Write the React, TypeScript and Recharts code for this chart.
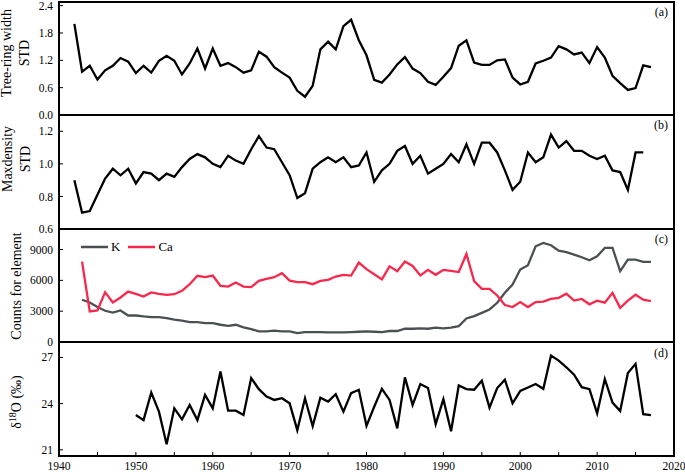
import { LineChart, Line, XAxis, YAxis, ReferenceArea, Legend } from 'recharts'

const FONT = "'Liberation Serif', 'Times New Roman', serif"

// first year of each record
const startRing = 1942
const startDensity = 1942
const startElement = 1943
const startOxygen = 1950

// (a) tree-ring width STD, 1942-2017
const ringWidth = [
	2.0, 0.95, 1.08, 0.78, 0.98, 1.08, 1.25, 1.17, 0.92, 1.08, 0.93, 1.19, 1.3, 1.19,
	0.89, 1.13, 1.46, 1.02, 1.46, 1.08, 1.14, 1.05, 0.93, 0.98, 1.39, 1.28, 1.05, 0.93,
	0.82, 0.53, 0.4, 0.64, 1.44, 1.61, 1.44, 1.95, 2.09, 1.64, 1.31, 0.77, 0.71, 0.89,
	1.11, 1.27, 1.02, 0.92, 0.73, 0.66, 0.84, 1.03, 1.52, 1.64, 1.15, 1.1, 1.1, 1.2,
	1.22, 0.82, 0.67, 0.73, 1.13, 1.19, 1.26, 1.51, 1.44, 1.33, 1.37, 1.14, 1.49, 1.26,
	0.86, 0.7, 0.55, 0.59, 1.09, 1.05,
]

// (b) maxdensity STD, 1942-2016
const maxDensity = [
	0.9, 0.7, 0.71, 0.81, 0.91, 0.97, 0.93, 0.97, 0.88, 0.95, 0.94, 0.9, 0.94, 0.92,
	0.98, 1.03, 1.06, 1.04, 1.0, 0.98, 1.05, 1.02, 1.0, 1.09, 1.17, 1.1, 1.09, 1.01,
	0.93, 0.79, 0.82, 0.97, 1.01, 1.04, 1.01, 1.04, 0.98, 0.99, 1.07, 0.89, 0.96, 1.0,
	1.08, 1.11, 1.0, 1.05, 0.94, 0.97, 1.0, 1.06, 1.01, 1.12, 1.0, 1.13, 1.13, 1.07,
	0.96, 0.84, 0.89, 1.07, 1.01, 1.04, 1.18, 1.1, 1.14, 1.08, 1.08, 1.05, 1.03, 1.05,
	0.96, 0.95, 0.84, 1.07, 1.07,
]

// (c) counts for element, 1943-2017
const potassium = [
	4110, 3850, 3400, 3040, 2870, 3070, 2580, 2580, 2490, 2420, 2420, 2330, 2170, 2070,
	1940, 1940, 1840, 1840, 1680, 1580, 1680, 1420, 1260, 1030, 1030, 1100, 1030, 1030,
	870, 970, 970, 970, 940, 930, 930, 970, 1000, 1030, 1000, 970, 1070, 1070, 1290,
	1290, 1320, 1290, 1390, 1320, 1390, 1550, 2290, 2520, 2840, 3170, 3820, 4790, 5600,
	7050, 7470, 9320, 9640, 9420, 8890, 8740, 8510, 8250, 7960, 8350, 9160, 9160, 6890,
	8020, 8020, 7800, 7800,
]
const calcium = [
	7830, 2970, 3070, 4850, 3850, 4330, 4910, 4690, 4430, 4820, 4690, 4590, 4650, 4980,
	5630, 6440, 6310, 6470, 5470, 5400, 5790, 5400, 5340, 5950, 6150, 6310, 6700, 5980,
	5830, 5830, 5630, 5950, 6050, 6370, 6530, 6470, 7730, 7090, 6600, 6100, 7360, 6900,
	7840, 7400, 6480, 7030, 6540, 7020, 6930, 6810, 8570, 5930, 5180, 5180, 4530, 3600,
	3400, 3890, 3400, 3880, 3930, 4200, 4300, 4700, 4030, 4190, 3670, 4030, 3830, 4780,
	3320, 4030, 4600, 4120, 3970,
]
const elementOrder = ['K', 'Ca']

// (d) δ18O, 1950-2017
const oxygen = [
	23.26, 22.93, 24.72, 23.48, 21.36, 23.7, 22.98, 23.91, 22.93, 24.57, 23.7, 26.09,
	23.54, 23.54, 23.26, 25.66, 24.94, 24.46, 24.24, 24.35, 24.02, 22.28, 24.35, 22.54,
	24.39, 24.13, 24.61, 23.48, 24.68, 24.9, 22.56, 23.8, 24.96, 24.24, 22.39, 25.7,
	23.91, 25.27, 25.01, 22.67, 24.29, 22.21, 25.18, 24.94, 24.9, 25.49, 23.74, 25.01,
	25.55, 24.02, 24.83, 25.05, 25.27, 24.96, 27.12, 26.79, 26.36, 25.88, 25.07, 24.94,
	23.37, 25.6, 24.07, 23.52, 25.99, 26.58, 23.31, 23.26,
]

const xTicks = [
	1940, 1945, 1950, 1955, 1960, 1965, 1970, 1975, 1980, 1985, 1990, 1995, 2000, 2005,
	2010, 2015, 2020,
]
const ringTicks = [0, 0.6, 1.2, 1.8, 2.4]
const densityTicks = [0.6, 0.8, 1.0, 1.2]
const elementTicks = [0, 3000, 6000, 9000]
const oxygenTicks = [21, 24, 27]

const ringRows = ringWidth.map((v, i) => ({ year: startRing + i, v }))
const densityRows = maxDensity.map((v, i) => ({ year: startDensity + i, v }))
const elementRows = potassium.map((k, i) => ({ year: startElement + i, k, ca: calcium[i] }))
const oxygenRows = oxygen.map((v, i) => ({ year: startOxygen + i, v }))

const axisLine = { stroke: '#000', strokeWidth: 2 }
const tickLine = { stroke: '#000', strokeWidth: 1 }
const tickStyle = { fill: '#000', fontSize: 11.5, fontFamily: FONT }

const oneDec = (v: number) => v.toFixed(1)

function LegendContent({ payload }: any) {
	const items = [...(payload || [])].sort(
		(a: any, b: any) => elementOrder.indexOf(a.value) - elementOrder.indexOf(b.value)
	)
	return (
		<div style={{ display: 'flex', alignItems: 'center', fontFamily: FONT, fontSize: 13, color: '#000', lineHeight: '14px' }}>
			{items.map((p: any) => (
				<span key={p.value} style={{ display: 'flex', alignItems: 'center', marginRight: 8 }}>
					<svg width={27} height={4}>
						<line x1={0} y1={2} x2={27} y2={2} stroke={p.color} strokeWidth={2.5} />
					</svg>
					<span style={{ marginLeft: 3 }}>{p.value}</span>
				</span>
			))}
		</div>
	)
}

function Panel({ rows, top, height, marginTop = 0, xh = 0, domain, yTicks, yFmt, years = false, children }: any) {
	return (
		<div style={{ position: 'absolute', left: 0, top }}>
			<LineChart width={685} height={height} data={rows} margin={{ top: marginTop, right: 11, bottom: 0, left: 0 }}>
				<XAxis
					dataKey='year'
					type='number'
					domain={[1940, 2020]}
					ticks={xTicks}
					interval={0}
					allowDataOverflow
					height={xh}
					tickSize={-4}
					tickMargin={years ? 10 : 0}
					tickFormatter={(v: number) => (years && v % 10 === 0 ? String(v) : '')}
					axisLine={axisLine}
					tickLine={tickLine}
					tick={tickStyle}
				/>
				<YAxis
					type='number'
					domain={domain}
					ticks={yTicks}
					interval={0}
					allowDataOverflow
					width={59}
					tickSize={-4}
					tickMargin={10}
					tickFormatter={yFmt}
					axisLine={axisLine}
					tickLine={tickLine}
					tick={tickStyle}
				/>
				<ReferenceArea x1={1940} x2={2020} y1={domain[0]} y2={domain[1]} fill='none' stroke='#000' strokeWidth={2} />
				{children}
			</LineChart>
		</div>
	)
}

export default function App() {
	return (
		<div style={{ position: 'relative', width: 685, height: 472, background: '#fff', fontFamily: FONT }}>
			<style>{'body{margin:0} .recharts-surface{overflow:visible}'}</style>

			<Panel rows={ringRows} top={0} height={115} marginTop={2} domain={[0, 2.48]} yTicks={ringTicks} yFmt={oneDec}>
				<Line dataKey='v' type='linear' stroke='#000' strokeWidth={2.3} dot={false} activeDot={false} isAnimationActive={false} />
			</Panel>

			<Panel rows={densityRows} top={115} height={114} domain={[0.6, 1.3]} yTicks={densityTicks} yFmt={oneDec}>
				<Line dataKey='v' type='linear' stroke='#000' strokeWidth={2.3} dot={false} activeDot={false} isAnimationActive={false} />
			</Panel>

			<Panel rows={elementRows} top={229} height={113} domain={[0, 11000]} yTicks={elementTicks}>
				<Line dataKey='k' name='K' type='linear' stroke='#4a5052' strokeWidth={2.3} dot={false} activeDot={false} isAnimationActive={false} />
				<Line dataKey='ca' name='Ca' type='linear' stroke='#f8284c' strokeWidth={2.3} dot={false} activeDot={false} isAnimationActive={false} />
				<Legend
					layout='horizontal'
					verticalAlign='middle'
					align='center'
					wrapperStyle={{ top: 11, left: 81, width: 'auto', height: 'auto' }}
					content={LegendContent}
				/>
			</Panel>

			<Panel rows={oxygenRows} top={342} height={130} xh={16} domain={[20.6, 28]} yTicks={oxygenTicks} years>
				<Line dataKey='v' type='linear' stroke='#000' strokeWidth={2.3} dot={false} activeDot={false} isAnimationActive={false} />
			</Panel>

			<svg width={685} height={472} style={{ position: 'absolute', left: 0, top: 0, pointerEvents: 'none' }}>
				<g fontFamily={FONT} fontSize={14} fill='#000' textAnchor='middle'>
					<text transform='translate(11,53) rotate(-90)'>Tree-ring width</text>
					<text transform='translate(29,53) rotate(-90)'>STD</text>
					<text transform='translate(12,159) rotate(-90)'>Maxdensity</text>
					<text transform='translate(30,159) rotate(-90)'>STD</text>
					<text transform='translate(21,286) rotate(-90)'>Counts for element</text>
					<text transform='translate(21,402) rotate(-90)'>
						δ<tspan fontSize={10} dy={-5}>18</tspan>
						<tspan dy={5}>O (‰)</tspan>
					</text>
				</g>
				<g fontFamily={FONT} fontSize={12} fill='#000' textAnchor='end'>
					<text x={668} y={16}>(a)</text>
					<text x={668} y={129}>(b)</text>
					<text x={668} y={243}>(c)</text>
					<text x={668} y={357}>(d)</text>
				</g>
			</svg>
		</div>
	)
}
